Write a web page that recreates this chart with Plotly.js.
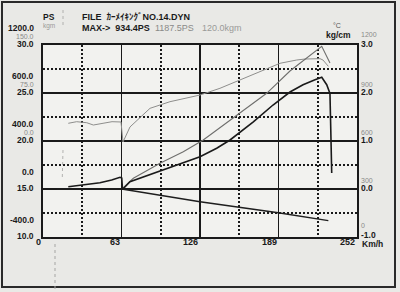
<!DOCTYPE html>
<html>
<head>
<meta charset="utf-8">
<script src="https://cdn.plot.ly/plotly-3.0.1.min.js"></script>
<style>html,body{margin:0;padding:0;background:#e9e9e6;}#chart{width:400px;height:292px;}</style>
</head>
<body>
<div id="chart"></div>
<script>
// ---- data (speed in Km/h, values on the kg/cm scale -1..3) ----
const xTicks = [0, 63, 126, 189, 252];
const xMinor = [31.5, 94.5, 157.5, 220.5];
const yTicks = [3, 2, 1, 0, -1];
const yMinor = [2.5, 1.5, 0.5, -0.5];
const xTickText = ['0', '63', '126', '189', '252'];
const leftPS = ['1200.0', '600.0', '400.0', '0.0', '-400.0'];
const leftKgm = ['150.0', '75.0', '0.0', '', ''];
const leftMain = ['30.0', '25.0', '20.0', '15.0', '10.0'];
const rightTemp = ['1200', '900', '600', '300', '0'];
const rightKg = ['3.0', '2.0', '1.0', '0.0', '-1.0'];

const psSpeed = [20.3, 32.1, 45.7, 55.1, 61.8, 63.2, 63.8, 69.8, 93.9, 109.9, 126.0, 139.4, 150.1, 168.8, 184.6, 198.2, 208.7, 218.3, 223.7, 227.7, 230.3, 230.9, 231.7];
const psVal   = [0.048, 0.083, 0.131, 0.188, 0.244, 0.229, -0.01, 0.152, 0.381, 0.535, 0.673, 0.848, 1.021, 1.40, 1.75, 2.02, 2.173, 2.277, 2.327, 2.173, 1.99, 1.298, 0.333];

const upStartSpeed = [15.5, 16.1];
const upStartVal   = [0.25, 0.875];
const upSpeed = [20.3, 27.0, 35.1, 40.4, 48.2, 55.4, 62.6, 64.2, 69.8, 85.9, 101.9, 126.0, 142.0, 158.1, 174.1, 190.2, 203.6, 210.3, 222.3, 224.7, 229.0];
const upVal   = [1.369, 1.402, 1.381, 1.333, 1.369, 1.402, 1.396, 0.979, 1.292, 1.681, 1.819, 1.958, 2.098, 2.271, 2.444, 2.619, 2.6875, 2.708, 2.715, 2.6875, 2.556];

const lowSpeed = [63.4, 72.5, 93.9, 112.6, 128.6, 158.1, 179.5, 198.2, 214.3, 223.7, 230.3];
const lowVal   = [0.0, 0.223, 0.535, 0.777, 1.021, 1.583, 1.994, 2.458, 2.792, 2.973, 2.625];

const boostSpeed = [11.2, 63.2, 126.0, 188.8, 229.0];
const boostVal   = [0.0, 0.0, -0.265, -0.494, -0.660];

// ---- layout helpers ----
const L = 43, R = 357, T = 45, B = 237;
const px = p => (p - L) / (R - L);
const py = p => (B - p) / (B - T);
const FONT = '"Liberation Sans Narrow", "Arial Narrow", "Liberation Sans", Arial, "Noto Sans CJK JP", sans-serif';

const traces = [
  {x: upStartSpeed, y: upStartVal, mode: 'lines', line: {color: '#b3b3b1', width: 1, dash: 'dot'}, hoverinfo: 'skip'},
  {x: upSpeed, y: upVal, mode: 'lines', line: {color: '#8e8e8c', width: 1}, hoverinfo: 'skip'},
  {x: lowSpeed, y: lowVal, mode: 'lines', line: {color: '#6f6f6d', width: 1.1}, hoverinfo: 'skip'},
  {x: boostSpeed, y: boostVal, mode: 'lines', line: {color: '#1e1e1e', width: 1.4}, hoverinfo: 'skip'},
  {x: psSpeed, y: psVal, mode: 'lines', line: {color: '#1a1a1a', width: 1.6}, hoverinfo: 'skip'}
];

const ann = [];
function txt(text, x, y, opts) {
  ann.push(Object.assign({text: text, x: x, y: y, xref: 'paper', yref: 'paper', showarrow: false, borderpad: 0,
    xanchor: 'left', yanchor: 'middle', font: {family: FONT, size: 9, color: '#1a1a1a'}}, opts || {}));
}
// x tick labels (right aligned to gridline)
xTicks.forEach((v, i) => {
  ann.push({text: '<b>' + xTickText[i] + '</b>', x: v, y: py(242), xref: 'x', yref: 'paper', showarrow: false, borderpad: 0,
    xanchor: 'right', yanchor: 'middle', xshift: -1, font: {family: FONT, size: 9, color: '#1a1a1a'}});
});
// left stacked labels
yTicks.forEach((v, i) => {
  const common = {x: 0, xref: 'paper', yref: 'y', y: v, showarrow: false, borderpad: 0, xanchor: 'right', yanchor: 'middle', xshift: -8};
  ann.push(Object.assign({}, common, {text: '<b>' + leftPS[i] + '</b>', yshift: 17, font: {family: FONT, size: 8.5, color: '#1a1a1a'}}));
  if (leftKgm[i]) ann.push(Object.assign({}, common, {text: leftKgm[i], yshift: 9, font: {family: FONT, size: 7, color: '#8a8a88'}}));
  ann.push(Object.assign({}, common, {text: '<b>' + leftMain[i] + '</b>', yshift: 1, font: {family: FONT, size: 8.5, color: '#1a1a1a'}}));
});
// right labels
yTicks.forEach((v, i) => {
  const common = {x: 1, xref: 'paper', yref: 'y', y: v, showarrow: false, borderpad: 0, xanchor: 'left', yanchor: 'middle', xshift: 3};
  ann.push(Object.assign({}, common, {text: rightTemp[i], yshift: (i === 0 ? 11 : (i === 4 ? 12 : 9)), font: {family: FONT, size: 7, color: '#8a8a88'}}));
  ann.push(Object.assign({}, common, {text: '<b>' + rightKg[i] + '</b>', yshift: (i === 4 ? 2 : 1), font: {family: FONT, size: 8.5, color: '#1a1a1a'}}));
});
txt('<b>Km/h</b>', px(361), py(243.5), {font: {family: FONT, size: 8.5, color: '#1a1a1a'}});
// header
txt('<b>PS</b>', px(42), py(17), {font: {family: FONT, size: 8.5, color: '#1a1a1a'}});
txt('kgm', px(42), py(26), {font: {family: FONT, size: 6.5, color: '#9a9a98'}});
txt('<b>FILE  ｶｰﾒｲｷﾝｸﾞNO.14.DYN</b>', px(81), py(17.5));
txt('<b>MAX-&gt;  934.4PS</b>', px(81), py(27.5));
txt('1187.5PS', px(154), py(27.5), {font: {family: FONT, size: 9, color: '#8a8a88'}});
txt('120.0kgm', px(201), py(27.5), {font: {family: FONT, size: 9, color: '#9a9a98'}});
txt('°C', px(332), py(25.5), {font: {family: FONT, size: 7, color: '#555'}});
txt('<b>kg/cm</b>', px(325), py(35.5), {font: {family: FONT, size: 8.5, color: '#1a1a1a'}});

const shapes = [
  {type: 'rect', xref: 'paper', yref: 'paper', x0: px(2), x1: px(395), y0: py(287), y1: py(2),
   line: {color: '#2a2a2a', width: 2}, layer: 'below'},
  {type: 'line', xref: 'paper', yref: 'paper', x0: px(63), x1: px(63), y0: py(10), y1: py(25),
   line: {color: '#b0b0ae', width: 1, dash: 'dot'}},
  {type: 'line', xref: 'paper', yref: 'paper', x0: px(55), x1: px(55), y0: py(244), y1: py(292),
   line: {color: '#a5a5a3', width: 1, dash: 'dot'}}
];

const layout = {
  width: 400, height: 292,
  margin: {l: L, r: 400 - R, t: T, b: 292 - B, pad: 0},
  paper_bgcolor: '#e9e9e6', plot_bgcolor: '#f2f2ef',
  showlegend: false,
  xaxis: {range: [0, 252], tickmode: 'array', tickvals: xTicks, showticklabels: false, ticks: '',
    showgrid: true, gridcolor: '#1a1a1a', gridwidth: 1.5, zeroline: false,
    showline: true, linecolor: '#1a1a1a', linewidth: 1.8, mirror: true,
    minor: {tickmode: 'array', tickvals: xMinor, showgrid: true, gridcolor: '#1a1a1a', gridwidth: 1.6, griddash: '2px,2px', ticks: ''}},
  yaxis: {range: [-1, 3], tickmode: 'array', tickvals: yTicks, showticklabels: false, ticks: '',
    showgrid: true, gridcolor: '#1a1a1a', gridwidth: 1.5, zeroline: false,
    showline: true, linecolor: '#1a1a1a', linewidth: 1.8, mirror: true,
    minor: {tickmode: 'array', tickvals: yMinor, showgrid: true, gridcolor: '#1a1a1a', gridwidth: 1.6, griddash: '2px,2px', ticks: ''}},
  annotations: ann,
  shapes: shapes
};

Plotly.newPlot('chart', traces, layout, {staticPlot: true, displayModeBar: false});
</script>
</body>
</html>
